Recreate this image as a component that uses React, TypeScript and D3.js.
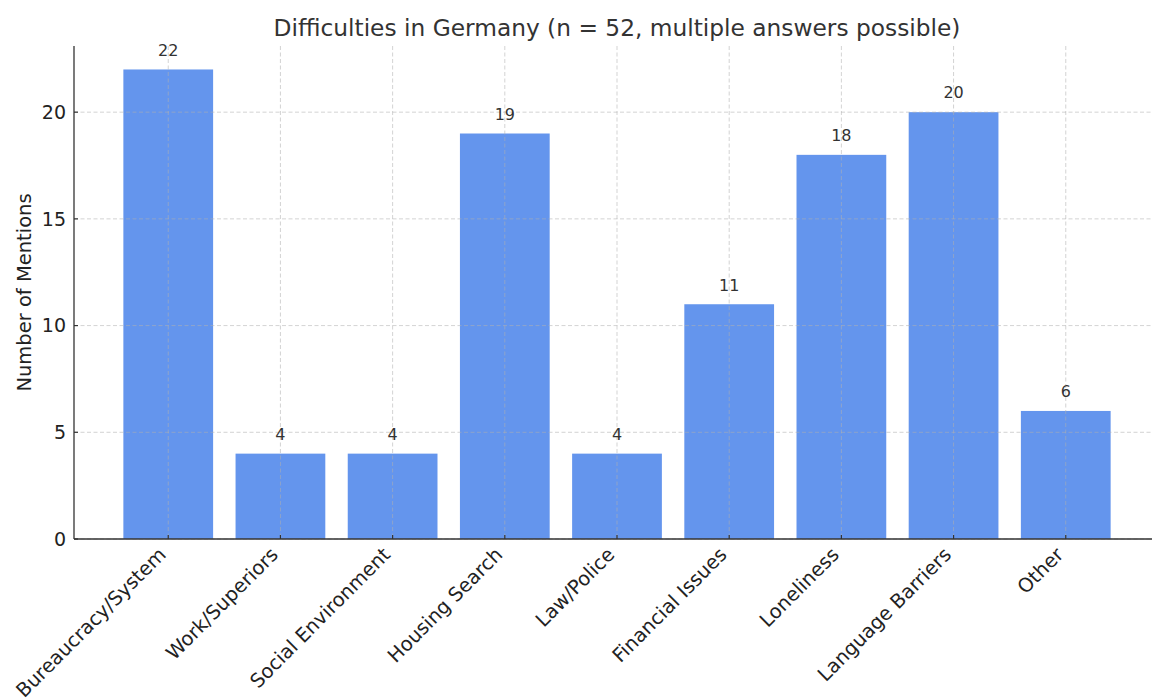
import React, { useEffect, useRef } from "react";
import * as d3 from "d3";

const categories = [
  "Bureaucracy/System",
  "Work/Superiors",
  "Social Environment",
  "Housing Search",
  "Law/Police",
  "Financial Issues",
  "Loneliness",
  "Language Barriers",
  "Other",
];
const mentions = [22, 4, 4, 19, 4, 11, 18, 20, 6];
const yTicks = [0, 5, 10, 15, 20];

const W = 1152;
const H = 700;
const FONT = "DejaVu Sans, sans-serif";

export default function App() {
  const svgRef = useRef<SVGSVGElement>(null);

  useEffect(() => {
    const svg = d3.select(svgRef.current);
    svg.selectAll("*").remove();

    const left = 74, bottom = 539, top = 46;

    // matplotlib-like limits: bars of width 0.8, 5% margins
    const xScale = d3.scaleLinear().domain([-0.84, categories.length - 1 + 0.84]).range([left, 1160]);
    const yScale = d3.scaleLinear().domain([0, 23.1]).range([bottom, top]);
    const bw = xScale(0.4) - xScale(-0.4);

    // bars
    svg.selectAll("rect.bar")
      .data(mentions)
      .enter()
      .append("rect")
      .attr("class", "bar")
      .attr("x", (_, i) => xScale(i) - bw / 2)
      .attr("y", d => yScale(d))
      .attr("width", bw)
      .attr("height", d => yScale(0) - yScale(d))
      .style("fill", "#6495ED");

    // grid
    const grid = svg.append("g").attr("stroke", "#b0b0b0").attr("stroke-opacity", 0.7)
      .attr("stroke-dasharray", "4,2.5").attr("stroke-width", 0.8);
    yTicks.forEach(t => {
      grid.append("line").attr("x1", left).attr("x2", W).attr("y1", yScale(t)).attr("y2", yScale(t));
    });
    categories.forEach((_, i) => {
      grid.append("line").attr("x1", xScale(i)).attr("x2", xScale(i)).attr("y1", top).attr("y2", bottom);
    });

    // spines
    svg.append("line").attr("x1", left).attr("x2", left).attr("y1", top).attr("y2", bottom)
      .attr("stroke", "#333").attr("stroke-width", 1.3);
    svg.append("line").attr("x1", left).attr("x2", W).attr("y1", bottom).attr("y2", bottom)
      .attr("stroke", "#333").attr("stroke-width", 1.3);

    // y ticks
    yTicks.forEach(t => {
      svg.append("line").attr("x1", left).attr("x2", left + 4).attr("y1", yScale(t)).attr("y2", yScale(t))
        .attr("stroke", "#333").attr("stroke-width", 1.2);
      svg.append("text").attr("x", left - 8).attr("y", yScale(t)).attr("dy", "0.36em")
        .attr("text-anchor", "end").style("font-family", FONT).style("font-size", "19px")
        .style("fill", "#222").text(t);
    });

    // x ticks + labels
    categories.forEach((c, i) => {
      const x = xScale(i);
      svg.append("line").attr("x1", x).attr("x2", x).attr("y1", bottom).attr("y2", bottom - 4)
        .attr("stroke", "#333").attr("stroke-width", 1.2);
      svg.append("text")
        .attr("transform", `translate(${x - 6},${bottom + 12}) rotate(-45)`)
        .attr("text-anchor", "end").attr("dy", "0.35em")
        .style("font-family", FONT).style("font-size", "19.5px").style("fill", "#222")
        .text(c);
    });

    // value labels
    svg.selectAll("text.val")
      .data(mentions)
      .enter()
      .append("text")
      .attr("class", "val")
      .attr("x", (_, i) => xScale(i))
      .attr("y", d => yScale(d + 0.5) - 3)
      .attr("text-anchor", "middle")
      .style("font-family", FONT).style("font-size", "16px").style("fill", "#333")
      .text(d => d);

    // y label
    svg.append("text")
      .attr("transform", `translate(31,${(top + bottom) / 2}) rotate(-90)`)
      .attr("text-anchor", "middle")
      .style("font-family", FONT).style("font-size", "19.5px").style("fill", "#222")
      .text("Number of Mentions");

    // title
    svg.append("text").attr("x", 617).attr("y", 36).attr("text-anchor", "middle")
      .style("font-family", FONT).style("font-size", "23.3px").style("fill", "#333")
      .text("Difficulties in Germany (n = 52, multiple answers possible)");
  }, []);

  return (
    <svg ref={svgRef} width={W} height={H}
      style={{ position: "absolute", left: 0, top: 0, background: "#fff" }} />
  );
}
